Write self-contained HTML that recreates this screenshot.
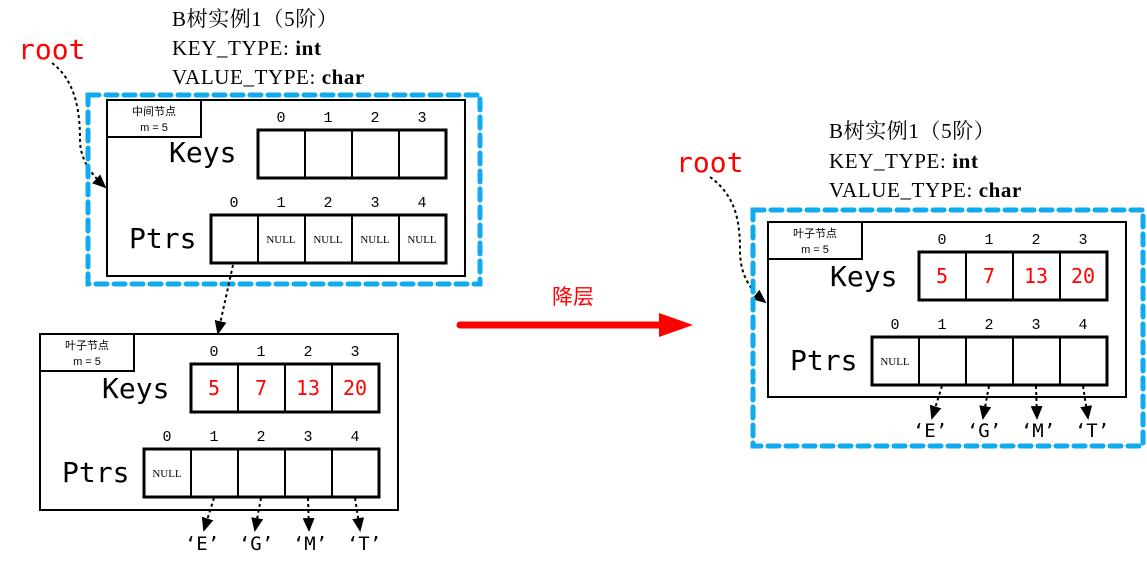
<!DOCTYPE html>
<html><head><meta charset="utf-8"><style>
html,body{margin:0;padding:0;background:#fff;}
svg{display:block;}
.t{font-family:"Liberation Serif","Noto Serif CJK SC",serif;font-size:21px;fill:#000;letter-spacing:0.6px;}
.mono{font-family:"DejaVu Sans Mono","Liberation Mono",monospace;}
.big{font-size:28px;}
.idx{font-family:"Liberation Mono",monospace;font-size:15px;text-anchor:middle;}
.null{font-family:"Liberation Serif",serif;font-size:11px;text-anchor:middle;}
.lbl{font-family:"Liberation Sans","Noto Sans CJK SC",sans-serif;font-size:11px;text-anchor:middle;}
.key{font-family:"DejaVu Sans Mono",monospace;font-size:20px;fill:#f00;text-anchor:middle;}
.ch{font-family:"DejaVu Sans Mono","Noto Sans CJK SC",monospace;font-size:19px;text-anchor:middle;}
</style></head><body>
<svg width="1147" height="569" viewBox="0 0 1147 569" xmlns="http://www.w3.org/2000/svg">
<defs>
<marker id="ah" markerWidth="14" markerHeight="12" refX="12" refY="6" orient="auto" markerUnits="userSpaceOnUse">
<path d="M0,0 L14,6 L0,12 z" fill="#000"/></marker>
</defs>

<!-- Left title -->
<text class="t" x="172" y="26">B树实例1（5阶）</text>
<text class="t" x="172" y="55">KEY_TYPE: <tspan font-weight="bold">int</tspan></text>
<text class="t" x="172" y="84">VALUE_TYPE: <tspan font-weight="bold">char</tspan></text>
<text class="mono big" x="18" y="59" fill="#f00">root</text>
<path d="M52,63 C75,80 80,110 80,140 C80,160 92,175 105,187" fill="none" stroke="#000" stroke-width="2" stroke-dasharray="3,3" marker-end="url(#ah)"/>

<rect x="88" y="95" width="392" height="189" fill="none" stroke="#10aaee" stroke-width="5" stroke-dasharray="11,7" stroke-linecap="round"/>

<!-- Internal node -->
<g transform="translate(107,100)">
<rect x="0" y="0" width="358" height="176" fill="none" stroke="#000" stroke-width="2"/>
<rect x="0" y="0" width="94" height="37" fill="none" stroke="#000" stroke-width="2"/>
<text class="lbl" x="47" y="15">中间节点</text>
<text class="lbl" x="47" y="31">m = 5</text>
<text class="mono big" x="62" y="62">Keys</text>
<text class="mono big" x="22" y="148">Ptrs</text>
<g class="idx"><text x="174" y="22">0</text><text x="221" y="22">1</text><text x="268" y="22">2</text><text x="315" y="22">3</text></g>
<rect x="151" y="30" width="188" height="48" fill="#fff" stroke="#000" stroke-width="3"/>
<path d="M198,30v48M245,30v48M292,30v48" stroke="#000" stroke-width="2"/>
<g class="idx"><text x="127" y="107">0</text><text x="174" y="107">1</text><text x="221" y="107">2</text><text x="268" y="107">3</text><text x="315" y="107">4</text></g>
<rect x="104" y="115" width="235" height="48" fill="#fff" stroke="#000" stroke-width="3"/>
<path d="M151,115v48M198,115v48M245,115v48M292,115v48" stroke="#000" stroke-width="2"/>
<g class="null"><text x="174" y="143">NULL</text><text x="221" y="143">NULL</text><text x="268" y="143">NULL</text><text x="315" y="143">NULL</text></g>
</g>
<line x1="233" y1="265" x2="218" y2="333" stroke="#000" stroke-width="2" stroke-dasharray="3,3" marker-end="url(#ah)"/>

<!-- Leaf node left -->
<g transform="translate(40,334)">
<rect x="0" y="0" width="358" height="176" fill="none" stroke="#000" stroke-width="2"/>
<rect x="0" y="0" width="94" height="37" fill="none" stroke="#000" stroke-width="2"/>
<text class="lbl" x="47" y="15">叶子节点</text>
<text class="lbl" x="47" y="31">m = 5</text>
<text class="mono big" x="62" y="64">Keys</text>
<text class="mono big" x="22" y="148">Ptrs</text>
<g class="idx"><text x="174" y="22">0</text><text x="221" y="22">1</text><text x="268" y="22">2</text><text x="315" y="22">3</text></g>
<rect x="151" y="30" width="188" height="48" fill="#fff" stroke="#000" stroke-width="3"/>
<path d="M198,30v48M245,30v48M292,30v48" stroke="#000" stroke-width="2"/>
<g class="key"><text x="174" y="61">5</text><text x="221" y="61">7</text><text x="268" y="61">13</text><text x="315" y="61">20</text></g>
<g class="idx"><text x="127" y="107">0</text><text x="174" y="107">1</text><text x="221" y="107">2</text><text x="268" y="107">3</text><text x="315" y="107">4</text></g>
<rect x="104" y="115" width="235" height="48" fill="#fff" stroke="#000" stroke-width="3"/>
<path d="M151,115v48M198,115v48M245,115v48M292,115v48" stroke="#000" stroke-width="2"/>
<text class="null" x="127" y="143">NULL</text>
<g stroke="#000" stroke-width="2" stroke-dasharray="3,3" fill="none">
<line x1="174" y1="164" x2="164" y2="196" marker-end="url(#ah)"/>
<line x1="221" y1="164" x2="215" y2="196" marker-end="url(#ah)"/>
<line x1="268" y1="164" x2="269" y2="196" marker-end="url(#ah)"/>
<line x1="315" y1="164" x2="320" y2="196" marker-end="url(#ah)"/>
</g>
<g class="ch"><text x="162" y="216">‘E’</text><text x="216" y="216">‘G’</text><text x="270" y="216">‘M’</text><text x="324" y="216">‘T’</text></g>
</g>

<!-- Arrow -->
<text x="573" y="304" font-family="'Noto Sans CJK SC',sans-serif" font-size="21" fill="#f00" text-anchor="middle">降层</text>
<line x1="460" y1="325" x2="662" y2="325" stroke="#f00" stroke-width="7" stroke-linecap="round"/>
<path d="M659,313 L693,325 L659,337 z" fill="#f00"/>

<!-- Right title -->
<text class="t" x="829" y="138">B树实例1（5阶）</text>
<text class="t" x="829" y="168">KEY_TYPE: <tspan font-weight="bold">int</tspan></text>
<text class="t" x="829" y="197">VALUE_TYPE: <tspan font-weight="bold">char</tspan></text>
<text class="mono big" x="676" y="172" fill="#f00">root</text>
<path d="M710,177 C735,195 740,220 740,250 C740,275 750,290 765,302" fill="none" stroke="#000" stroke-width="2" stroke-dasharray="3,3" marker-end="url(#ah)"/>

<rect x="753" y="210" width="390" height="236" fill="none" stroke="#10aaee" stroke-width="5" stroke-dasharray="11,7" stroke-linecap="round"/>

<g transform="translate(768,222)">
<rect x="0" y="0" width="358" height="175" fill="none" stroke="#000" stroke-width="2"/>
<rect x="0" y="0" width="94" height="37" fill="none" stroke="#000" stroke-width="2"/>
<text class="lbl" x="47" y="15">叶子节点</text>
<text class="lbl" x="47" y="31">m = 5</text>
<text class="mono big" x="62" y="64">Keys</text>
<text class="mono big" x="22" y="148">Ptrs</text>
<g class="idx"><text x="174" y="22">0</text><text x="221" y="22">1</text><text x="268" y="22">2</text><text x="315" y="22">3</text></g>
<rect x="151" y="30" width="188" height="48" fill="#fff" stroke="#000" stroke-width="3"/>
<path d="M198,30v48M245,30v48M292,30v48" stroke="#000" stroke-width="2"/>
<g class="key"><text x="174" y="61">5</text><text x="221" y="61">7</text><text x="268" y="61">13</text><text x="315" y="61">20</text></g>
<g class="idx"><text x="127" y="107">0</text><text x="174" y="107">1</text><text x="221" y="107">2</text><text x="268" y="107">3</text><text x="315" y="107">4</text></g>
<rect x="104" y="115" width="235" height="48" fill="#fff" stroke="#000" stroke-width="3"/>
<path d="M151,115v48M198,115v48M245,115v48M292,115v48" stroke="#000" stroke-width="2"/>
<text class="null" x="127" y="143">NULL</text>
<g stroke="#000" stroke-width="2" stroke-dasharray="3,3" fill="none">
<line x1="174" y1="164" x2="164" y2="196" marker-end="url(#ah)"/>
<line x1="221" y1="164" x2="215" y2="196" marker-end="url(#ah)"/>
<line x1="268" y1="164" x2="269" y2="196" marker-end="url(#ah)"/>
<line x1="315" y1="164" x2="320" y2="196" marker-end="url(#ah)"/>
</g>
<g class="ch"><text x="162" y="215">‘E’</text><text x="216" y="215">‘G’</text><text x="270" y="215">‘M’</text><text x="324" y="215">‘T’</text></g>
</g>
</svg>
</body></html>
